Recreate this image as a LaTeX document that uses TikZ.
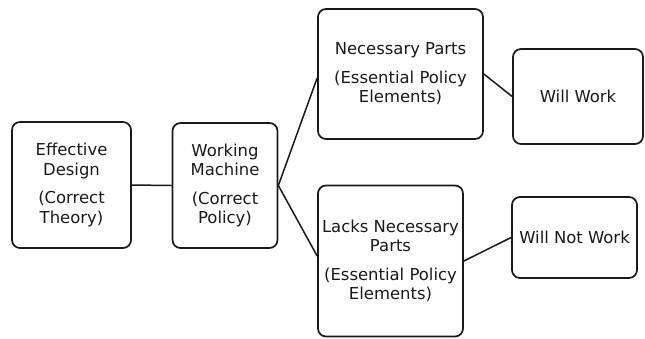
\documentclass[tikz,border=0pt]{standalone}
\usepackage{fontspec}
\setmainfont{DejaVu Sans}
\begin{document}
\begin{tikzpicture}[x=1bp,y=-1bp,
  box/.style={draw=black!90, line width=1.7bp, rounded corners=8bp, align=center,
    inner sep=0pt, font=\fontsize{16.5}{19.5}\selectfont, text=black!90},
  link/.style={draw=black!90, line width=1.5bp}]
\useasboundingbox (0,0) rectangle (645,338);
\node[box, minimum width=119bp, minimum height=126bp] (b1) at (71.5,185)
  {Effective\\Design\\[9bp](Correct\\Theory)};
\node[box, minimum width=105bp, minimum height=125bp] (b2) at (225,185.5)
  {Working\\Machine\\[9bp](Correct\\Policy)};
\node[box, minimum width=165bp, minimum height=130bp] (b3) at (400.5,74)
  {Necessary Parts\\[9bp](Essential Policy\\Elements)};
\node[box, minimum width=130bp, minimum height=95bp] (b4) at (578,96.5)
  {Will Work};
\node[box, minimum width=145bp, minimum height=151bp] (b5) at (390.5,261)
  {Lacks Necessary\\Parts\\[9bp](Essential Policy\\Elements)};
\node[box, minimum width=125bp, minimum height=81bp] (b6) at (574.5,237.5)
  {Will Not Work};
\draw[link] (b1.east) -- (b2.west);
\draw[link] (b2.east) -- ([yshift=-4bp]b3.west);
\draw[link] (b2.east) -- ([yshift=5bp]b5.west);
\draw[link] (b3.east) -- (b4.west);
\draw[link] (b5.east) -- (b6.west);
\end{tikzpicture}
\end{document}
